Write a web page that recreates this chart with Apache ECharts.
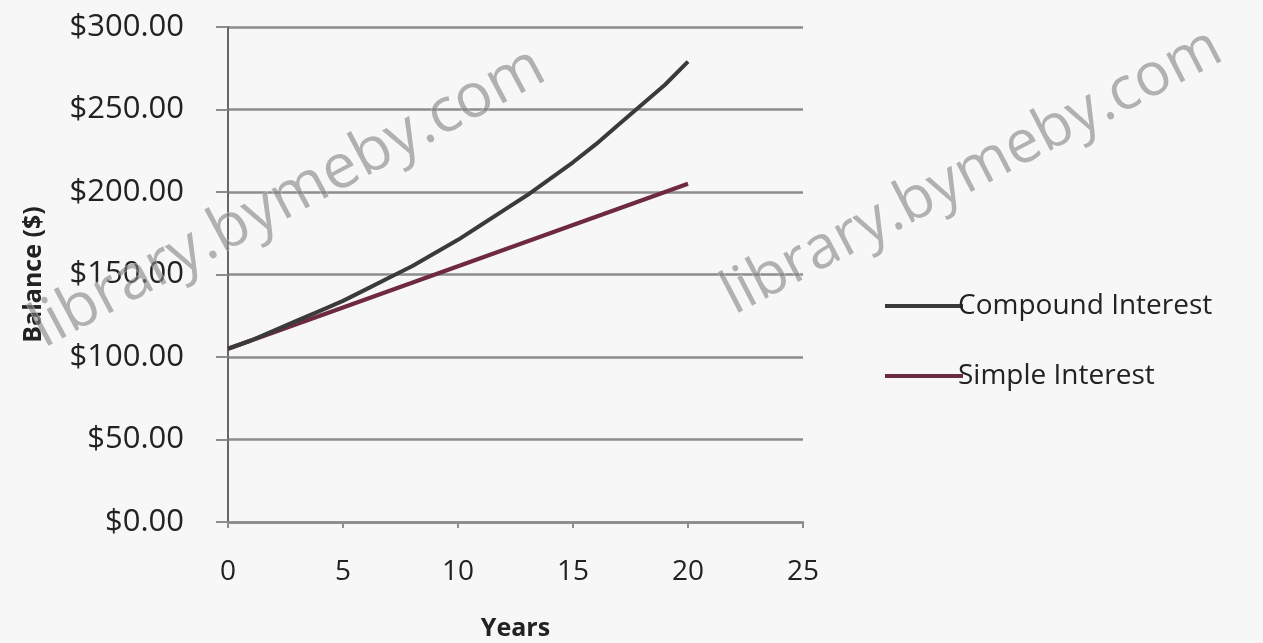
<!DOCTYPE html>
<html>
<head>
<meta charset="utf-8">
<script src="https://cdn.jsdelivr.net/npm/echarts@6/dist/echarts.min.js"></script>
<style>
html,body{margin:0;padding:0;background:#f7f7f7;}
#chart{width:1263px;height:643px;}
</style>
</head>
<body>
<div id="chart"></div>
<script>
const years = [0,1,2,3,4,5,6,7,8,9,10,11,12,13,14,15,16,17,18,19,20];
const compoundInterest = [105,110,116,122,128,134,141,148,155,163,171,180,189,198,208,218,229,241,253,265,279];
const simpleInterest = [105,110,115,120,125,130,135,140,145,150,155,160,165,170,175,180,185,190,195,200,205];
const seriesNames = ['Compound Interest','Simple Interest'];
const xAxisTitle = 'Years';
const yAxisTitle = 'Balance ($)';
const watermark = 'library.bymeby.com';

const chart = echarts.init(document.getElementById('chart'));
const font = '"Open Sans", Lato, sans-serif';
chart.setOption({
  backgroundColor: '#f7f7f7',
  animation: false,
  grid: {left: 228, right: 460, top: 27, bottom: 121, containLabel: false, outerBoundsMode: 'none'},
  xAxis: {
    type: 'value', min: 0, max: 25, interval: 5,
    name: xAxisTitle, nameLocation: 'middle', nameGap: 94,
    nameTextStyle: {fontFamily: font, fontSize: 25, fontWeight: 'bold', color: '#222'},
    axisLine: {show: true, onZero: false, lineStyle: {color: '#8c8c8c', width: 2.5}},
    axisTick: {show: true, length: 6, lineStyle: {color: '#8c8c8c', width: 2}},
    axisLabel: {fontFamily: font, fontSize: 28, color: '#222', margin: 36},
    splitLine: {show: false}
  },
  yAxis: {
    type: 'value', min: 0, max: 300, interval: 50,
    name: yAxisTitle, nameLocation: 'middle', nameGap: 182, nameRotate: 90,
    nameTextStyle: {fontFamily: font, fontSize: 25, fontWeight: 'bold', color: '#222'},
    axisLine: {show: true, lineStyle: {color: '#666', width: 2}},
    axisTick: {show: true, length: 12, lineStyle: {color: '#8c8c8c', width: 2}},
    axisLabel: {fontFamily: font, fontSize: 31, color: '#222', margin: 44,
      formatter: v => '$' + v.toFixed(2)},
    splitLine: {show: true, lineStyle: {color: '#8c8c8c', width: 2.5}}
  },
  legend: {
    orient: 'vertical', left: 880, top: 287, itemGap: 42,
    itemWidth: 78, itemHeight: 4, icon: 'rect',
    textStyle: {fontFamily: font, fontSize: 28, color: '#222', padding: [0,0,0,-10]},
    data: seriesNames
  },
  series: [
    {name: seriesNames[0], type: 'line', data: years.map((y,i)=>[y, compoundInterest[i]]),
      showSymbol: false, smooth: false, lineStyle: {color: '#3a3a3a', width: 4}, itemStyle: {color: '#3a3a3a'}, z: 3},
    {name: seriesNames[1], type: 'line', data: years.map((y,i)=>[y, simpleInterest[i]]),
      showSymbol: false, lineStyle: {color: '#6e2a40', width: 4}, itemStyle: {color: '#6e2a40'}, z: 2}
  ],
  graphic: [
    {type: 'text', x: 288, y: 198, rotation: 0.49, z: 10,
      style: {text: watermark, font: '62px "Open Sans", sans-serif', fill: 'rgba(130,130,130,0.6)',
        stroke: 'rgba(255,255,255,0.5)', lineWidth: 1, align: 'center', verticalAlign: 'middle'}},
    {type: 'text', x: 972, y: 172, rotation: 0.48, z: 10,
      style: {text: watermark, font: '60px "Open Sans", sans-serif', fill: 'rgba(130,130,130,0.6)',
        stroke: 'rgba(255,255,255,0.5)', lineWidth: 1, align: 'center', verticalAlign: 'middle'}}
  ]
});
</script>
</body>
</html>
